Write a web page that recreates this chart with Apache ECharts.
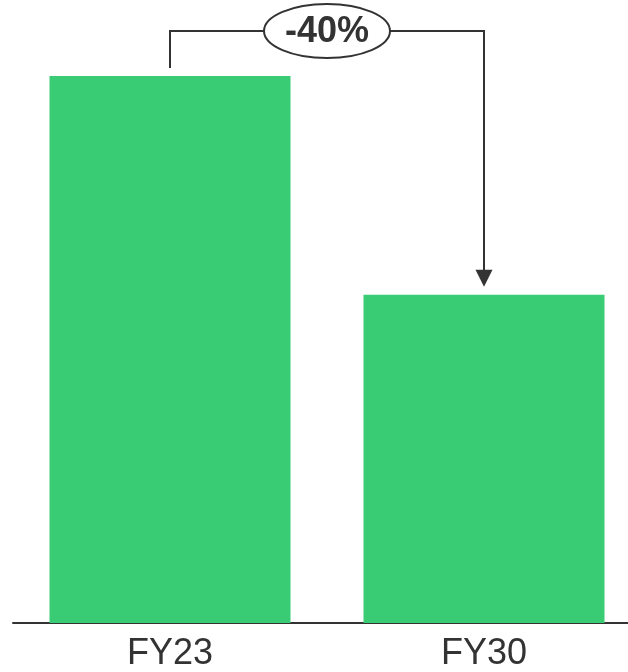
<!DOCTYPE html>
<html>
<head>
<meta charset="utf-8">
<script src="https://cdn.jsdelivr.net/npm/echarts@6/dist/echarts.min.js"></script>
<style>
  html, body { margin: 0; padding: 0; background: #fff; }
  #chart { width: 628px; height: 672px; }
</style>
</head>
<body>
<div id="chart"></div>
<script>
// Fiscal years and indexed values (FY23 = 100)
const categories = ['FY23', 'FY30'];
const values = [100, 60];

const BAR_COLOR = '#3acc74';
const INK = '#333333';
const FONT = '"Liberation Sans", Arial, Helvetica, sans-serif';

const chart = echarts.init(document.getElementById('chart'), null, { renderer: 'canvas' });

chart.setOption({
  animation: false,
  grid: { left: 13, right: -13, top: 76, bottom: 49, outerBoundsMode: 'none', containLabel: false },
  xAxis: {
    type: 'category',
    data: categories,
    axisLine: { show: true, lineStyle: { color: INK, width: 2 } },
    axisTick: { show: false },
    axisLabel: { color: INK, fontSize: 36, fontFamily: FONT, margin: 13 }
  },
  yAxis: {
    type: 'value',
    min: 0,
    max: 100,
    show: false
  },
  series: [{
    type: 'bar',
    data: values,
    barWidth: 241,
    itemStyle: { color: BAR_COLOR },
    silent: true
  }]
});

// Change bracket: from the top of the first bar, over the label, down to the second bar
const p0 = chart.convertToPixel({ gridIndex: 0 }, [categories[0], values[0]]);
const p1 = chart.convertToPixel({ gridIndex: 0 }, [categories[1], values[1]]);
const change = Math.round((values[1] / values[0] - 1) * 100);
const gap = 8;
const bracketY = 31;
const midX = (p0[0] + p1[0]) / 2;
const rx = 63, ry = 27;

chart.setOption({
  graphic: [
    {
      type: 'polyline',
      shape: { points: [[p0[0], p0[1] - gap], [p0[0], bracketY], [midX - rx, bracketY]] },
      style: { stroke: INK, lineWidth: 2, fill: null }
    },
    {
      type: 'polyline',
      shape: { points: [[midX + rx, bracketY], [p1[0], bracketY], [p1[0], p1[1] - gap - 14]] },
      style: { stroke: INK, lineWidth: 2, fill: null }
    },
    {
      type: 'polygon',
      shape: { points: [[p1[0] - 8.5, p1[1] - gap - 17], [p1[0] + 8.5, p1[1] - gap - 17], [p1[0], p1[1] - gap]] },
      style: { fill: INK }
    },
    {
      type: 'ellipse',
      shape: { cx: midX, cy: bracketY, rx: rx, ry: ry },
      style: { fill: '#fff', stroke: INK, lineWidth: 2 }
    },
    {
      type: 'text',
      x: midX,
      y: bracketY + 1,
      style: {
        text: change + '%',
        fill: INK,
        font: 'bold 36px ' + FONT,
        align: 'center',
        verticalAlign: 'middle'
      }
    }
  ]
});
</script>
</body>
</html>
